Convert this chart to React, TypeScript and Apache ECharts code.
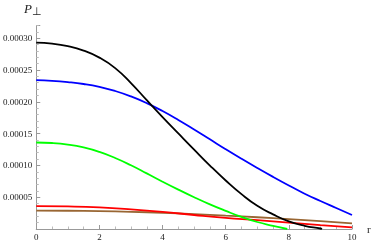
import React, { useEffect, useRef } from "react";
import * as echarts from "echarts";

// values in units of 1e-5
const blackR = [0, 0.5, 1, 1.5, 2, 2.5, 3, 3.5, 4, 4.5, 5, 5.5, 6, 6.5, 7, 7.5, 8, 8.5, 9, 9.05];
const blackV = [29.3, 29.15, 28.75, 28.05, 26.95, 25.3, 22.95, 20.25, 17.6, 15.03, 12.48, 9.98, 7.63, 5.48, 3.65, 2.3, 1.2, 0.5, 0.08, 0];

const blueR = [0, 0.5, 1, 1.5, 2, 2.5, 3, 3.5, 4, 4.5, 5, 5.5, 6, 6.5, 7, 7.5, 8, 8.5, 9, 9.5, 10];
const blueV = [23.4, 23.3, 23.1, 22.8, 22.35, 21.7, 20.85, 19.8, 18.55, 17.15, 15.65, 14.1, 12.55, 11.05, 9.6, 8.2, 6.85, 5.55, 4.4, 3.3, 2.2];

const greenR = [0, 0.5, 1, 1.5, 2, 2.5, 3, 3.5, 4, 4.5, 5, 5.5, 6, 6.5, 7, 7.5, 7.95];
const greenV = [13.6, 13.52, 13.27, 12.82, 12.12, 11.17, 10.02, 8.74, 7.44, 6.19, 4.99, 3.87, 2.85, 1.9, 1.1, 0.5, 0];

const redR = [0, 1, 2, 3, 4, 5, 6, 7, 8, 9, 10];
const redV = [3.6, 3.55, 3.4, 3.1, 2.7, 2.2, 1.75, 1.4, 1.0, 0.6, 0.25];

const brownR = [0, 1, 2, 3, 4, 5, 6, 7, 8, 9, 10];
const brownV = [2.9, 2.87, 2.8, 2.7, 2.55, 2.35, 2.1, 1.85, 1.55, 1.25, 0.9];

const xTicks = [0, 2, 4, 6, 8, 10];
const yTickLabels = ["0.00005", "0.00010", "0.00015", "0.00020", "0.00025", "0.00030"];

const SCALE = 1e-5;
const FONT = "Liberation Serif";

function pairs(r: number[], v: number[]) {
  return r.map((x, i) => [x, v[i] * SCALE]);
}

export default function App() {
  const ref = useRef<HTMLDivElement>(null);
  useEffect(() => {
    if (!ref.current) return;
    const chart = echarts.init(ref.current, undefined, { renderer: "svg" });
    const mk = (name: string, r: number[], v: number[], color: string) => ({
      name,
      type: "line",
      data: pairs(r, v),
      showSymbol: false,
      smooth: 0.5,
      lineStyle: { color, width: 1.8 },
      z: 3,
    });
    chart.setOption({
      animation: false,
      grid: { left: 33, right: 22, top: 25.5, bottom: 14, containLabel: false },
      textStyle: { fontFamily: FONT },
      xAxis: {
        type: "value",
        min: 0,
        max: 10,
        interval: 2,
        name: "r",
        nameLocation: "end",
        nameGap: 15,
        nameTextStyle: { fontFamily: FONT, fontSize: 11, color: "#222", verticalAlign: "middle", padding: [6, 0, 0, 0] },
        axisLine: { lineStyle: { color: "#999", width: 1 } },
        axisTick: { show: true, inside: true, length: 4, lineStyle: { color: "#999" } },
        minorTick: { show: true, splitNumber: 4, length: 2.5, lineStyle: { color: "#bbb" } },
        splitLine: { show: false },
        axisLabel: {
          fontFamily: FONT,
          fontSize: 9,
          color: "#222",
          margin: 3,
          formatter: (v: number) => (xTicks.includes(v) ? String(v) : ""),
        },
      },
      yAxis: {
        type: "value",
        min: 0,
        max: 0.00032,
        interval: 0.00005,
        axisLine: { show: true, lineStyle: { color: "#999", width: 1 } },
        axisTick: { show: true, inside: true, length: 4, lineStyle: { color: "#999" } },
        minorTick: { show: true, splitNumber: 5, length: 2.5, lineStyle: { color: "#bbb" } },
        splitLine: { show: false },
        axisLabel: {
          fontFamily: FONT,
          fontSize: 9,
          color: "#222",
          margin: 4,
          showMinLabel: false,
          showMaxLabel: false,
          formatter: (v: number) => {
            const s = v.toFixed(5);
            return yTickLabels.includes(s) ? s : "";
          },
        },
      },
      graphic: [
        {
          type: "text",
          left: 24,
          top: 2,
          style: {
            text: "{p|P}{s|⊥}",
            rich: {
              p: { fontFamily: FONT, fontStyle: "italic", fontSize: 13, fill: "#222" },
              s: { fontFamily: FONT, fontSize: 11, fill: "#222", padding: [4, 0, 0, 0] },
            },
          },
        },
      ],
      series: [
        mk("brown", brownR, brownV, "#996633"),
        mk("red", redR, redV, "#ff0000"),
        mk("green", greenR, greenV, "#00ff00"),
        mk("blue", blueR, blueV, "#0000ff"),
        mk("black", blackR, blackV, "#000000"),
      ],
    });
    return () => chart.dispose();
  }, []);
  return <div ref={ref} style={{ position: "fixed", left: 0, top: 0, width: 374, height: 243 }} />;
}
